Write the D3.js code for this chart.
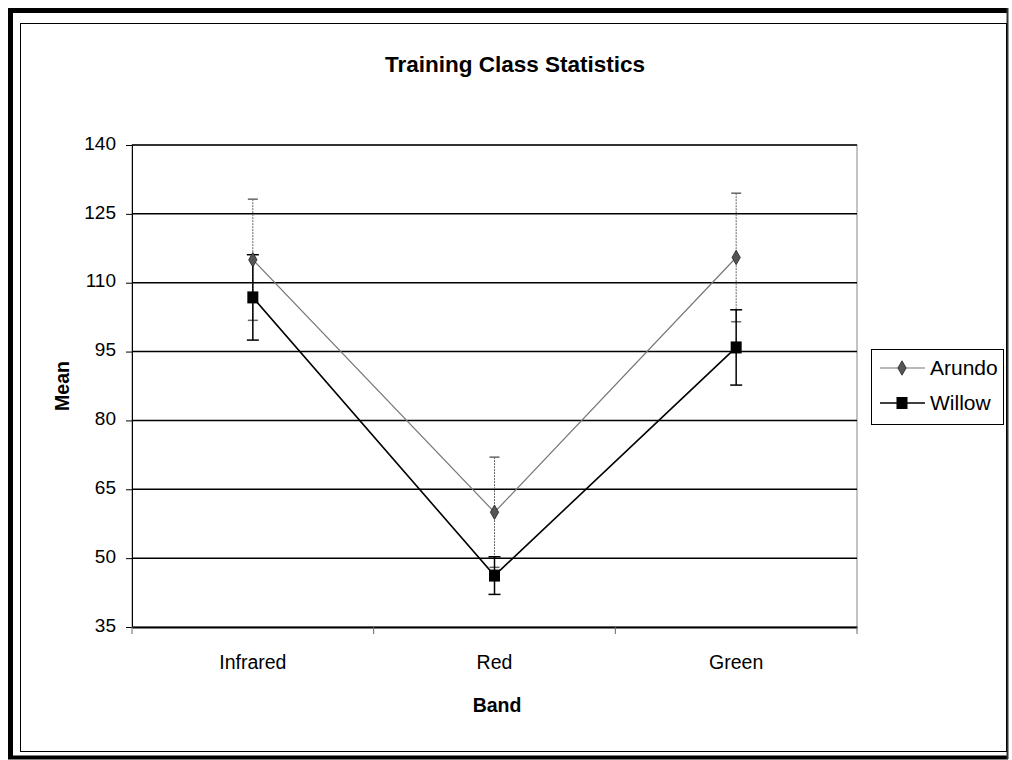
<!DOCTYPE html>
<html>
<head>
<meta charset="utf-8">
<script src="https://cdn.jsdelivr.net/npm/d3@7"></script>
<style>
  html, body { margin: 0; padding: 0; background: #fff; }
  svg { display: block; font-family: "Liberation Sans", Arial, sans-serif; }
</style>
</head>
<body>
<svg id="chart" width="1012" height="760"></svg>
<script>
// ---- data ----
const categories = ["Infrared", "Red", "Green"];
const seriesNames = ["Arundo", "Willow"];
const arundoMean = [115, 60, 115.5];
const arundoErr = [13.2, 12, 14];
const willowMean = [106.8, 46.2, 95.9];
const willowErr = [9.3, 4.1, 8.2];
const yTicks = [35, 50, 65, 80, 95, 110, 125, 140];
const titleText = "Training Class Statistics";
const xTitle = "Band";
const yTitle = "Mean";

const svg = d3.select("#chart");

// frame
svg.append("path").attr("d", "M10.5,759 L10.5,10.5 L1007,10.5").attr("fill", "none").attr("stroke", "#000").attr("stroke-width", 5);
svg.append("line").attr("x1", 8).attr("x2", 1008).attr("y1", 757.5).attr("y2", 757.5).attr("stroke", "#000").attr("stroke-width", 4);
svg.append("line").attr("x1", 1007.5).attr("x2", 1007.5).attr("y1", 8).attr("y2", 759).attr("stroke", "#333").attr("stroke-width", 2);
svg.append("rect").attr("x", 20.5).attr("y", 23.5).attr("width", 986).attr("height", 728)
  .attr("fill", "none").attr("stroke", "#000").attr("stroke-width", 1);

// plot area
const L = 132, R = 857, T = 145, B = 627;
const x = d3.scaleBand().domain(categories).range([L, R]).padding(0);
const y = d3.scaleLinear().domain([35, 140]).range([B, T]);
const cx = c => x(c) + x.bandwidth() / 2;

// plot border (grey)
svg.append("rect").attr("x", L).attr("y", T).attr("width", R - L).attr("height", B - T)
  .attr("fill", "none").attr("stroke", "#888").attr("stroke-width", 1);

// gridlines
svg.append("g").selectAll("line").data(yTicks.filter(t => t !== 35)).join("line")
  .attr("x1", L).attr("x2", R).attr("y1", d => y(d)).attr("y2", d => y(d))
  .attr("stroke", "#000").attr("stroke-width", 1.5);

// y axis
const yAxis = d3.axisLeft(y).tickValues(yTicks).tickSize(6).tickPadding(10).tickFormat(d3.format("d"));
const gy = svg.append("g").attr("transform", `translate(${L},0)`).call(yAxis);
gy.select(".domain").attr("stroke", "#000").attr("stroke-width", 1);
gy.selectAll(".tick line").attr("stroke", "#000");
gy.selectAll("text").attr("font-size", 19).attr("fill", "#000").attr("dy", "0.22em")
  .attr("font-family", "Liberation Sans, Arial, sans-serif");

// x axis
const xAxis = d3.axisBottom(x).tickSize(0).tickPadding(28);
const gx = svg.append("g").attr("transform", `translate(0,${B})`).call(xAxis);
gx.select(".domain").attr("stroke", "#000").attr("stroke-width", 2);
gx.selectAll("text").attr("font-size", 19.5).attr("fill", "#000").attr("font-family", "Liberation Sans, Arial, sans-serif");
// category boundary ticks
const bounds = categories.map(c => x(c)).concat([R]);
svg.append("g").selectAll("line").data(bounds).join("line")
  .attr("x1", d => d).attr("x2", d => d).attr("y1", B).attr("y2", B + 7)
  .attr("stroke", "#666").attr("stroke-width", 1);

// error bars
function errorBars(means, errs, color, width, dash, capW) {
  const g = svg.append("g");
  categories.forEach((c, i) => {
    const xx = cx(c);
    g.append("line").attr("x1", xx).attr("x2", xx)
      .attr("y1", y(means[i] + errs[i])).attr("y2", y(means[i] - errs[i]))
      .attr("stroke", color).attr("stroke-width", width).attr("stroke-dasharray", dash);
    [means[i] + errs[i], means[i] - errs[i]].forEach(v => {
      g.append("line").attr("x1", xx - capW / 2).attr("x2", xx + capW / 2)
        .attr("y1", y(v)).attr("y2", y(v))
        .attr("stroke", color).attr("stroke-width", 1.5);
    });
  });
}
errorBars(arundoMean, arundoErr, "#666", 1, "2,1", 10);
errorBars(willowMean, willowErr, "#000", 1.5, null, 12);

// series lines
const line = d3.line().x((d, i) => cx(categories[i])).y(d => y(d));
svg.append("path").datum(arundoMean).attr("d", line).attr("fill", "none")
  .attr("stroke", "#777").attr("stroke-width", 1.2);
svg.append("path").datum(willowMean).attr("d", line).attr("fill", "none")
  .attr("stroke", "#000").attr("stroke-width", 1.6);

// markers
const diamond = d3.symbol().type(d3.symbolDiamond).size(60);
svg.append("g").selectAll("path").data(arundoMean).join("path")
  .attr("d", diamond)
  .attr("transform", (d, i) => `translate(${cx(categories[i])},${y(d)})`)
  .attr("fill", "#555").attr("stroke", "#222").attr("stroke-width", 0.8);
svg.append("g").selectAll("rect").data(willowMean).join("rect")
  .attr("x", (d, i) => cx(categories[i]) - 5.5).attr("y", d => y(d) - 6)
  .attr("width", 11).attr("height", 12).attr("fill", "#000");

// titles
svg.append("text").attr("x", 515).attr("y", 72).attr("text-anchor", "middle")
  .attr("font-size", 22.5).attr("font-weight", "bold").text(titleText);
svg.append("text").attr("x", 497).attr("y", 712).attr("text-anchor", "middle")
  .attr("font-size", 19.5).attr("font-weight", "bold").text(xTitle);
svg.append("text").attr("transform", "translate(69,386) rotate(-90)").attr("text-anchor", "middle")
  .attr("font-size", 19.5).attr("font-weight", "bold").text(yTitle);

// legend
const lg = svg.append("g");
lg.append("rect").attr("x", 871.5).attr("y", 349.5).attr("width", 132).attr("height", 75)
  .attr("fill", "#fff").attr("stroke", "#000").attr("stroke-width", 1);
const legRows = [
  { name: seriesNames[0], color: "#777", w: 1.2, marker: "diamond" },
  { name: seriesNames[1], color: "#000", w: 1.6, marker: "square" }
];
legRows.forEach((r, i) => {
  const yy = 368 + i * 35;
  lg.append("line").attr("x1", 880).attr("x2", 925).attr("y1", yy).attr("y2", yy)
    .attr("stroke", r.color).attr("stroke-width", r.w);
  if (r.marker === "diamond") {
    lg.append("path").attr("d", diamond).attr("transform", `translate(902,${yy})`)
      .attr("fill", "#555").attr("stroke", "#222").attr("stroke-width", 0.8);
  } else {
    lg.append("rect").attr("x", 902 - 5.5).attr("y", yy - 6).attr("width", 11).attr("height", 12).attr("fill", "#000");
  }
  lg.append("text").attr("x", 930).attr("y", yy).attr("dy", "0.35em")
    .attr("font-size", 21).text(r.name);
});
</script>
</body>
</html>
